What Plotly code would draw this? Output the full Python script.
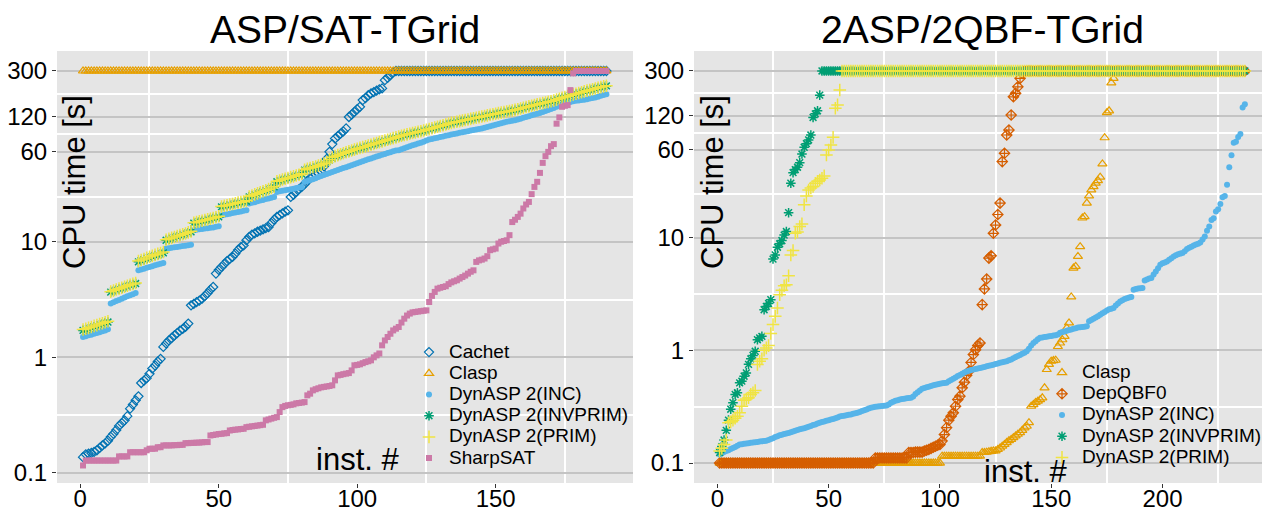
import plotly.graph_objects as go

# ---------------- Left panel: ASP/SAT-TGrid ----------------
left_cachet = [0.137,0.145,0.147,0.149,0.152,0.157,0.165,0.173,0.18,0.19,
               0.205,0.218,0.235,0.255,0.27,0.285,0.31,0.36,0.39,0.425,
               0.46,0.6,0.63,0.66,0.72,0.8,0.85,0.92,0.97,1.23,
               1.32,1.40,1.47,1.55,1.62,1.70,1.76,1.84,1.96,2.82,
               2.9,3.0,3.1,3.22,3.4,3.6,3.85,4.06,5.3,5.7,
               6.05,6.4,6.8,7.1,7.4,7.9,8.5,9.0,9.3,10.3,
               11.0,11.5,11.8,12.2,12.5,12.8,13.1,13.4,14.5,15.5,
               16.4,17.0,17.6,18.2,18.7,24.4,25.5,27,28.5,29.8,
               31.5,33.5,35.5,36.4,38,38.9,40.5,45,52,60,
               70,78,82,86,90,95.5,120,126,133,140,
               147,168,175,185,192,197,203,208,212,250,
               262,277,292] + [300] * 77

left_clasp = [300] * 190

left_inc = [1.50,1.52,1.55,1.57,1.60,1.62,1.65,1.68,1.71,1.75,
            2.92,3.0,3.07,3.14,3.22,3.29,3.37,3.44,3.52,3.6,
            5.67,5.75,5.85,5.95,6.05,6.15,6.25,6.35,6.45,6.55,
            8.73,8.8,8.87,8.95,9.02,9.1,9.17,9.25,9.32,9.4,
            12.6,12.7,12.8,12.9,13.0,13.1,13.2,13.3,13.45,13.6,
            16.9,17.1,17.3,17.5,17.7,17.9,18.1,18.3,18.5,18.7,
            21.4,21.7,22.0,22.4,22.7,23.0,23.4,23.7,24.0,24.4,
            27.0,27.3,27.6,27.9,28.2,28.5,28.8,29.1,29.4,29.8,
            33,33.6,34.2,34.8,35.4,36.4,37,37.8,38.6,39.4,
            40.2,41,41.8,42.6,43.4,44.2,45,45.9,46.8,47.8,
            48.8,49.8,50.8,51.7,52.6,53.5,54.5,55.5,56.5,57.5,
            58.5,59.5,60.5,61.5,62,63.2,64.5,65.8,67,68.2,
            69.4,70.6,71.9,73.2,75,76.5,77.5,78.5,79.5,80.5,
            81.5,82.5,83.5,84.5,85.5,86.5,87.5,88.5,89.5,90.5,
            91.5,92.5,93.5,94.5,95.5,97,98.5,100,101.5,103,
            104.5,106,107.5,109,110.5,111.5,112.7,114,116,118,
            120,122,124,126,128,130,132.5,135,137.6,140.5,
            143.5,147,150.5,154,157,160,162,164,166,167,
            168,169,171,173,175,177,180,183,186,189]

left_invprim = [1.71,1.74,1.77,1.80,1.84,1.87,1.91,1.95,1.98,2.02,
                3.67,3.75,3.82,3.9,3.97,4.05,4.12,4.2,4.27,4.35,
                6.7,6.85,7.0,7.15,7.3,7.45,7.6,7.7,7.85,8.0,
                10.3,10.5,10.7,10.9,11.1,11.3,11.5,11.7,11.95,12.2,
                14.5,14.7,14.9,15.1,15.3,15.5,15.7,15.95,16.2,16.4,
                20,20.3,20.5,20.8,21.0,21.3,21.6,21.8,22.1,22.4,
                24.4,24.9,25.5,26.0,26.6,27.1,27.7,28.3,29.0,29.8,
                33,33.6,34.2,34.8,35.3,35.9,36.5,37.1,37.7,38.5,
                41.6,42.3,43,43.7,44.4,45.1,45.9,47,49,51,
                53,54.5,55.6,56.7,57.8,58.9,60,61.1,62.2,63.3,
                64.3,65.3,66.2,67.3,68.5,69.7,70.9,72.1,73.3,74.5,
                75.7,76.9,78.1,79.4,80.8,82,83.2,84.3,85.4,86.5,
                87.6,88.7,89.8,90.9,92.3,93.7,95.1,96.6,98.1,99.6,
                101.1,102.6,104.5,106,107.3,108.5,109.8,111,112.3,113.6,
                114.9,116.2,117.5,118.9,120.4,121.8,123.2,124.6,126,127.4,
                128.8,130.2,131.6,133,134.5,136,137.6,139.5,141.5,143.5,
                145.5,147.5,149.5,151.5,153.5,155.5,157.5,159.5,161.5,163.5,
                166,169,172,175,178,181,184,187,190,193,
                196,199,202,205,208,211,214,217,220,223]

left_prim = [1.74,1.77,1.80,1.83,1.87,1.90,1.94,1.97,2.01,2.05,
             3.7,3.78,3.86,3.93,4.0,4.08,4.16,4.24,4.32,4.4,
             6.8,6.95,7.1,7.25,7.4,7.55,7.7,7.85,8.0,8.15,
             10.4,10.6,10.8,11.0,11.2,11.4,11.6,11.8,12.05,12.3,
             14.6,14.8,15.0,15.2,15.4,15.6,15.8,16.05,16.3,16.6,
             20.2,20.5,20.7,21.0,21.2,21.5,21.8,22.0,22.3,22.6,
             24.6,25.1,25.7,26.2,26.8,27.3,27.9,28.5,29.2,30.0,
             33.3,33.9,34.5,35.1,35.6,36.2,36.8,37.4,38.0,38.8,
             42,42.7,43.4,44.1,44.8,45.5,46.3,47.4,49,51.3,
             53.5,55,56.1,57.2,58.3,59.4,60.5,61.6,62.7,63.8,
             64.8,65.8,66.8,67.9,69.1,70.3,71.5,72.7,73.9,75.1,
             76.3,77.5,78.7,80,81.4,82.6,83.8,84.9,86,87.1,
             88.2,89.3,90.4,91.6,93,94.4,95.8,97.3,98.8,100.3,
             101.8,103.3,105.2,106.7,108,109.2,110.5,111.7,113,114.3,
             115.6,116.9,118.2,119.6,121.1,122.5,123.9,125.3,126.7,128.1,
             129.5,130.9,132.3,133.7,135.2,136.7,138.3,140.2,142.2,144.2,
             146.2,148.2,150.2,152.2,154.2,156.2,158.2,160.2,162.2,164.2,
             166.7,169.7,172.7,175.7,178.7,181.7,184.7,187.7,190.7,193.7,
             196.7,199.7,202.7,205.7,208.7,211.7,214.7,217.7,220.7,223.7]

left_sharpsat = [0.116,0.128,0.128,0.128,0.128,0.128,0.128,0.128,0.128,0.128,
                 0.128,0.128,0.128,0.139,0.139,0.139,0.139,0.151,0.151,0.151,
                 0.151,0.151,0.151,0.157,0.162,0.162,0.162,0.167,0.167,0.173,
                 0.173,0.173,0.173,0.174,0.174,0.175,0.175,0.181,0.181,0.182,
                 0.182,0.183,0.183,0.184,0.185,0.185,0.211,0.213,0.215,0.217,
                 0.218,0.22,0.221,0.233,0.235,0.237,0.238,0.24,0.241,0.249,
                 0.251,0.253,0.255,0.257,0.259,0.261,0.285,0.29,0.295,0.30,
                 0.304,0.336,0.371,0.38,0.385,0.388,0.392,0.40,0.403,0.406,
                 0.41,0.469,0.485,0.518,0.53,0.54,0.55,0.555,0.56,0.565,
                 0.573,0.632,0.698,0.705,0.715,0.723,0.731,0.771,0.853,0.86,
                 0.87,0.89,0.91,0.925,0.942,1.0,1.04,1.08,1.27,1.4,
                 1.5,1.6,1.71,1.77,1.83,2.0,2.16,2.3,2.39,2.45,
                 2.47,2.49,2.51,2.53,2.55,3.01,3.4,3.68,3.93,4.0,
                 4.06,4.12,4.3,4.45,4.55,4.64,4.8,4.95,5.1,5.3,
                 5.5,5.66,6.69,6.9,7.0,7.16,7.5,8.45,8.6,8.73,
                 9.65,10.0,10.15,10.3,11.4,14.8,15.5,16.4,17.5,19.4,
                 21,22.1,25.8,29.8,33,39.4,48.1,55,59.9,67.1,
                 69.9,105,119,147,150,152,205,286,300,300] + [300] * 10

# ---------------- Right panel: 2ASP/2QBF-TGrid ----------------
right_clasp = ([0.1] * 100 + [0.115] * 18 +
               [0.124,0.124,0.125,0.126,0.127,0.128,0.128,
                0.132,0.136,0.141,0.146,0.152,
                0.158,0.162,0.168,0.174,0.18,0.186,
                0.195,0.205,0.212,0.228,
                0.319,0.33,0.345,0.354,0.365,0.379,0.465,0.675,0.75,0.80,
                0.81,0.816,1.08,1.16,1.24,1.33,1.58,1.75,2.97,5.36,
                5.54,6.79,8.3,14.9,15.3,20.2,23.4,26.4,28.3,30.3,
                32,34.3,44.9,76.7,128,133,235,258] + [300] * 59)

right_depqbf = ([0.1] * 70 + [0.111] * 15 +
                [0.124,0.124,0.124,0.125,0.125,0.125,0.125,
                 0.128,0.13,0.132,0.135,0.138,0.141,0.144,0.146,
                 0.157,0.179,0.206,0.24,0.26,0.279,0.319,0.366,0.392,0.465,
                 0.521,0.6,0.652,0.78,0.916,1.01,1.1,1.16,2.54,3.5,
                 4.29,6.57,6.89,10.9,12.9,16,20.2,47.1,55.8,81.1,
                 89.8,122,177,190,217,258,285] + [300] * 100)

right_inc = [0.119,0.122,0.125,0.128,0.13,0.133,0.136,0.139,0.142,0.146,
             0.147,0.148,0.149,0.15,0.151,0.152,0.153,0.154,0.155,0.156,
             0.157,0.158,0.16,0.163,0.166,0.17,0.173,0.176,0.178,0.181,
             0.183,0.185,0.188,0.19,0.193,0.196,0.199,0.201,0.204,0.207,
             0.21,0.213,0.217,0.22,0.224,0.228,0.231,0.234,0.237,0.24,
             0.243,0.246,0.25,0.254,0.258,0.261,0.263,0.266,0.268,0.27,
             0.273,0.276,0.279,0.284,0.289,0.294,0.299,0.304,0.309,0.312,
             0.315,0.317,0.319,0.321,0.322,0.324,0.33,0.342,0.35,0.356,
             0.361,0.366,0.369,0.372,0.375,0.377,0.379,0.39,0.41,0.425,
             0.44,0.455,0.462,0.469,0.476,0.483,0.489,0.495,0.5,0.505,
             0.509,0.512,0.514,0.53,0.545,0.56,0.575,0.59,0.605,0.62,
             0.635,0.648,0.66,0.668,0.675,0.683,0.69,0.697,0.705,0.712,
             0.72,0.728,0.736,0.745,0.755,0.765,0.775,0.784,0.792,0.80,
             0.815,0.83,0.85,0.87,0.89,0.91,0.93,0.95,0.98,1.03,
             1.1,1.16,1.2,1.25,1.29,1.3,1.31,1.32,1.33,1.34,
             1.35,1.36,1.38,1.43,1.45,1.47,1.49,1.51,1.53,1.55,
             1.57,1.59,1.6,1.61,1.62,1.63,1.81,1.86,1.9,1.95,
             2.0,2.07,2.13,2.19,2.25,2.31,2.34,2.37,2.5,2.6,
             2.71,2.78,2.85,2.9,2.94,2.97,3.45,3.5,3.53,3.55,
             3.57,4.16,4.25,4.32,4.37,4.7,5.0,5.35,5.73,5.9,
             6.0,6.14,6.35,6.55,6.79,6.95,7.1,7.2,7.28,7.55,
             7.89,8.1,8.3,8.5,8.65,8.8,9.03,9.6,
             10.2,11.5,12.5,14.3,14.8,17.0,17.8,19.8,22.8,23.4,
             29.3,42,53.6,69.4,70.5,78,82.8,142,152]

right_invprim = [0.124,0.14,0.16,0.195,0.24,0.30,0.343,0.406,0.42,0.514,
                 0.532,0.589,0.63,0.75,0.84,0.9,0.98,1.24,1.29,1.33,
                 2.29,2.45,2.6,2.81,6.44,7.0,8.2,8.8,9.4,10.5,
                 11.3,16.6,30.3,37.6,40,42,46.1,55,63.1,68,
                 73.3,81.1,116,125,133,183] + [300] * 191

right_prim = [0.128,0.135,0.146,0.16,0.228,0.232,0.24,0.25,0.26,0.279,
              0.319,0.361,0.37,0.379,0.406,0.42,0.44,0.747,0.8,0.84,
              1.0,1.05,1.10,1.41,1.69,2.0,2.37,3.11,3.4,3.74,
              3.81,4.58,7.0,7.67,10.9,11.2,12.5,13.2,19.5,23.4,
              26.4,27.5,28.3,30.3,31.5,32.4,33.5,35.2,53.9,59.7,
              66.1,77.3,140,150,203] + [300] * 182

y_ticks = [0.1, 1, 10, 60, 120, 300]
y_ticktext = ["0.1", "1", "10", "60", "120", "300"]
y_minor = [0.3162, 3.162, 24.49, 84.85, 189.7]
left_xticks = [0, 50, 100, 150]
left_xminor = [25, 75, 125, 175]
right_xticks = [0, 50, 100, 150, 200]
right_xminor = [25, 75, 125, 175, 225]

C_CACHET = "#0072B2"
C_CLASP = "#E69F00"
C_INC = "#56B4E9"
C_INVPRIM = "#009E73"
C_PRIM = "#F0E442"
C_SHARP = "#CC79A7"
C_DEPQBF = "#D55E00"

LEG_TEXT = 19   # rendered size of legend labels


def lab(s):
    return '<span style="font-size:%dpx">%s</span>' % (LEG_TEXT, s)


def pts(vals, name, symbol, color, size, xa, ya, leg, lw=1.2):
    return go.Scatter(
        x=list(range(1, len(vals) + 1)), y=vals, mode="markers", name=lab(name),
        marker=dict(symbol=symbol, color=color, size=size,
                    line=dict(color=color, width=lw)),
        xaxis=xa, yaxis=ya, legend=leg, cliponaxis=True)


fig = go.Figure()
fig.add_trace(pts(left_cachet, "Cachet", "diamond-open", C_CACHET, 7, "x", "y", "legend"))
fig.add_trace(pts(left_clasp, "Clasp", "triangle-up-open", C_CLASP, 8, "x", "y", "legend"))
fig.add_trace(pts(left_inc, "DynASP 2(INC)", "circle", C_INC, 6, "x", "y", "legend", 0))
fig.add_trace(pts(left_invprim, "DynASP 2(INVPRIM)", "asterisk-open", C_INVPRIM, 8, "x", "y", "legend", 1.5))
fig.add_trace(pts(left_prim, "DynASP 2(PRIM)", "cross-thin-open", C_PRIM, 9, "x", "y", "legend", 1.5))
fig.add_trace(pts(left_sharpsat, "SharpSAT", "square", C_SHARP, 6, "x", "y", "legend", 0))

fig.add_trace(pts(right_clasp, "Clasp", "triangle-up-open", C_CLASP, 8, "x2", "y2", "legend2"))
fig.add_trace(pts(right_depqbf, "DepQBF0", "diamond-cross-open", C_DEPQBF, 8, "x2", "y2", "legend2"))
fig.add_trace(pts(right_inc, "DynASP 2(INC)", "circle", C_INC, 6, "x2", "y2", "legend2", 0))
fig.add_trace(pts(right_invprim, "DynASP 2(INVPRIM)", "asterisk-open", C_INVPRIM, 8, "x2", "y2", "legend2", 1.5))
fig.add_trace(pts(right_prim, "DynASP 2(PRIM)", "cross-thin-open", C_PRIM, 9, "x2", "y2", "legend2", 1.5))

# page body has an 8px margin: figure is placed at (8, 8) in the window
OFF = 8
W, H = 1270 - OFF, 508 - OFF
PLOT_TOP, PLOT_BOT = 51, 483          # window pixels
MT = PLOT_TOP - OFF
MB = (H + OFF) - PLOT_BOT
PH = PLOT_BOT - PLOT_TOP

FONT = "Liberation Sans, Arial, sans-serif"


def fx(p):
    """window pixel x -> paper fraction"""
    return (p - OFF) / W


def fy(p):
    """window pixel y -> paper fraction"""
    return (PLOT_BOT - p) / PH


def xaxis(domain, rng, ticks, minor):
    return dict(domain=domain, range=rng, tickvals=ticks, showgrid=False,
                minor=dict(tickvals=minor, showgrid=True, gridcolor="white", gridwidth=1.8, ticks=""),
                ticks="outside", ticklen=4, tickcolor="#333333", tickwidth=1,
                ticklabelstandoff=-10,
                tickfont=dict(size=24, color="black", family=FONT),
                zeroline=False, showline=False, automargin=False)


def yaxis(anchor, rng):
    return dict(anchor=anchor, type="log", range=rng, tickvals=y_ticks, ticktext=y_ticktext,
                showgrid=True, gridcolor="#C4C4C4", gridwidth=1.6,
                minor=dict(tickvals=y_minor, showgrid=True, gridcolor="white", gridwidth=1.8, ticks=""),
                ticks="outside", ticklen=4, tickcolor="#333333", tickwidth=1,
                tickfont=dict(size=24, color="black", family=FONT),
                zeroline=False, showline=False, automargin=False)


fig.update_layout(
    width=W, height=H, template="none",
    margin=dict(l=0, r=0, t=MT, b=MB, pad=0),
    paper_bgcolor="white", plot_bgcolor="#E5E5E5",
    font=dict(family=FONT, color="black"),
    xaxis=xaxis([fx(57), fx(633)], [-8.4, 199.6], left_xticks, left_xminor),
    yaxis=yaxis("x", [-1.087, 2.650]),
    xaxis2=xaxis([fx(694), 1.0], [-10.5, 248.3], right_xticks, right_xminor),
    yaxis2=yaxis("x2", [-1.177, 2.654]),
    legend=dict(x=fx(409), y=fy(405.5), xanchor="left", yanchor="middle",
                bgcolor="rgba(0,0,0,0)", font=dict(size=14, family=FONT, color="black")),
    legend2=dict(x=fx(1042), y=fy(415), xanchor="left", yanchor="middle",
                 bgcolor="rgba(0,0,0,0)", font=dict(size=14, family=FONT, color="black")),
    showlegend=True,
)

ann = []
ann.append(dict(text="ASP/SAT-TGrid", x=fx(345), y=fy(30), xref="paper", yref="paper",
                showarrow=False, xanchor="center", yanchor="middle", font=dict(size=39)))
ann.append(dict(text="2ASP/2QBF-TGrid", x=fx(982), y=fy(30), xref="paper", yref="paper",
                showarrow=False, xanchor="center", yanchor="middle", font=dict(size=39)))
for cx in (75, 713):
    ann.append(dict(text="CPU time [s]", x=fx(cx), y=fy(182), xref="paper", yref="paper",
                    showarrow=False, textangle=-90, xanchor="center", yanchor="middle",
                    font=dict(size=31)))
ann.append(dict(text="inst. #", x=fx(357), y=fy(459), xref="paper", yref="paper",
                showarrow=False, xanchor="center", yanchor="middle", font=dict(size=31)))
ann.append(dict(text="inst. #", x=fx(1025), y=fy(471), xref="paper", yref="paper",
                showarrow=False, xanchor="center", yanchor="middle", font=dict(size=31)))
fig.update_layout(annotations=ann)

fig.write_html("out.html")
